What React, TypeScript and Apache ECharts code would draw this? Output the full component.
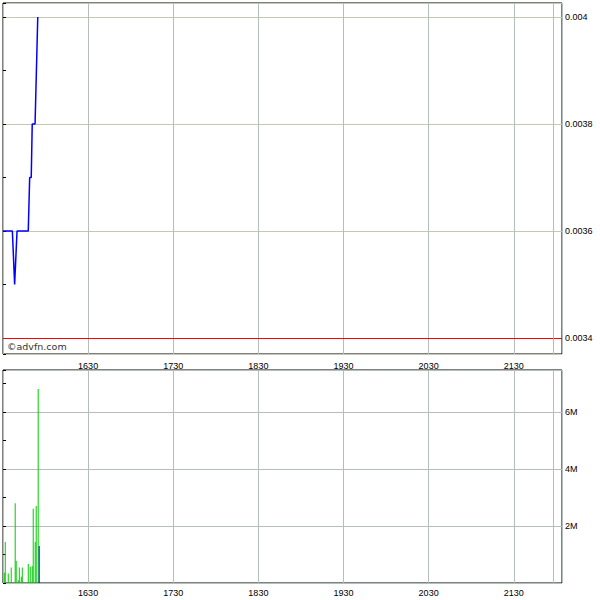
import React, { useEffect, useRef } from 'react';
import * as echarts from 'echarts';

// minutes after 15:30
const priceTimes = [0, 6.6, 8.2, 9.9, 17.8, 18.8, 19.9, 20.6, 22.6, 24.5];
const priceValues = [0.0036, 0.0036, 0.0035, 0.0036, 0.0036, 0.0037, 0.0037, 0.0038, 0.0038, 0.004];

const volumeTimes = [0.9, 1.6, 3.7, 5.8, 8.6, 9.3, 10.8, 11.5, 12.9, 13.6, 17.8, 19.2, 20.6, 21.3, 22.7, 23.4, 24.8, 25.5];
const volumeValues = [0.36, 1.44, 0.33, 0.54, 2.8, 0.78, 0.1, 0.54, 0.22, 0.54, 0.67, 0.57, 0.6, 2.6, 1.44, 2.7, 6.8, 1.3];

const refPrice = 0.0034;
const sessionEnd = 388;
const dayStart = 930; // 15:30 in minutes

const labelFont = 'Liberation Sans';
const gridColor = '#b6bdbd';

const hhmm = (v: number) => {
  const t = dayStart + v;
  const h = Math.floor(t / 60);
  const m = Math.round(t % 60);
  return `${h}${m < 10 ? '0' : ''}${m}`;
};

const App: React.FC = () => {
  const ref = useRef<HTMLDivElement>(null);

  useEffect(() => {
    document.body.style.margin = '0';
    if (!ref.current) return;
    const chart = echarts.init(ref.current, undefined, { renderer: 'svg' });

    const xAxisBase = (gridIndex: number, margin: number) => ({
      type: 'value',
      gridIndex,
      min: 0,
      max: 394,
      interval: 60,
      axisLine: { show: false },
      axisTick: { show: false },
      axisLabel: {
        showMinLabel: false,
        showMaxLabel: false,
        formatter: (v: number) => (v === 0 ? '' : hhmm(v)),
        fontFamily: labelFont,
        fontSize: 9,
        color: '#000',
        margin
      },
      splitLine: { show: true, lineStyle: { color: gridColor, width: 1 } }
    });

    const endLine = {
      silent: true,
      symbol: 'none',
      label: { show: false },
      data: [{ xAxis: sessionEnd, lineStyle: { color: gridColor, width: 1, type: 'solid' } }]
    };

    const lastIdx = volumeValues.length - 1;

    const option: echarts.EChartsCoreOption = {
      animation: false,
      backgroundColor: '#fff',
      grid: [
        { left: 3, top: 3, width: 559, height: 351, show: true, borderColor: '#000', borderWidth: 1, backgroundColor: '#fff' },
        { left: 3, top: 370, width: 559, height: 213, show: true, borderColor: '#000', borderWidth: 1, backgroundColor: '#fff' }
      ],
      xAxis: [xAxisBase(0, 7), xAxisBase(1, 5)],
      yAxis: [
        {
          type: 'value',
          gridIndex: 0,
          position: 'right',
          min: 0.00337,
          max: 0.004026,
          splitNumber: 3,
          axisLine: { show: false },
          axisTick: { show: true, length: 3, lineStyle: { color: '#000' } },
          axisLabel: {
            showMinLabel: false,
            showMaxLabel: false,
            formatter: (v: number) => String(parseFloat(v.toPrecision(4))),
            fontFamily: labelFont,
            fontSize: 9,
            color: '#000',
            margin: 3
          },
          splitLine: { show: true, lineStyle: { color: '#c4c7b4', width: 1 } }
        },
        {
          type: 'value',
          gridIndex: 0,
          position: 'left',
          min: 0.00337,
          max: 0.004026,
          splitNumber: 6,
          axisLine: { show: false },
          axisTick: { show: true, inside: true, length: 3, lineStyle: { color: '#000' } },
          axisLabel: { show: false },
          splitLine: { show: false }
        },
        {
          type: 'value',
          gridIndex: 1,
          position: 'right',
          min: 0,
          max: 7.47,
          interval: 2,
          axisLine: { show: false },
          axisTick: { show: true, length: 3, lineStyle: { color: '#000' } },
          axisLabel: {
            showMinLabel: false,
            showMaxLabel: false,
            formatter: (v: number) => (v === 0 ? '' : `${v}M`),
            fontFamily: labelFont,
            fontSize: 9,
            color: '#000',
            margin: 3
          },
          splitLine: { show: true, lineStyle: { color: gridColor, width: 1 } }
        },
        {
          type: 'value',
          gridIndex: 1,
          position: 'left',
          min: 0,
          max: 7.47,
          interval: 1,
          axisLine: { show: false },
          axisTick: { show: true, inside: true, length: 3, lineStyle: { color: '#000' } },
          axisLabel: { show: false },
          splitLine: { show: false }
        }
      ],
      graphic: [
        {
          type: 'text',
          left: 7,
          top: 341,
          z: 10,
          style: { text: '©advfn.com', font: '9.5px "DejaVu Sans"', fill: '#333' }
        }
      ],
      series: [
        {
          type: 'line',
          xAxisIndex: 0,
          yAxisIndex: 0,
          data: priceTimes.map((t, i) => [t, priceValues[i]]),
          showSymbol: false,
          lineStyle: { color: '#0000ff', width: 1.5 },
          markLine: {
            silent: true,
            symbol: 'none',
            precision: 6,
            label: { show: false },
            data: [
              { yAxis: refPrice, lineStyle: { color: '#ff0000', width: 1.2, type: 'solid' } },
              { xAxis: sessionEnd, lineStyle: { color: gridColor, width: 1, type: 'solid' } }
            ]
          }
        },
        {
          type: 'bar',
          xAxisIndex: 1,
          yAxisIndex: 2,
          barWidth: 1,
          data: volumeTimes.map((t, i) => ({
            value: [t, volumeValues[i]],
            itemStyle: { color: i === lastIdx ? '#0000cc' : '#00cc00' }
          })),
          markLine: endLine
        }
      ]
    };

    chart.setOption(option);
    return () => chart.dispose();
  }, []);

  return <div ref={ref} style={{ width: 600, height: 600 }} />;
};

export default App;
